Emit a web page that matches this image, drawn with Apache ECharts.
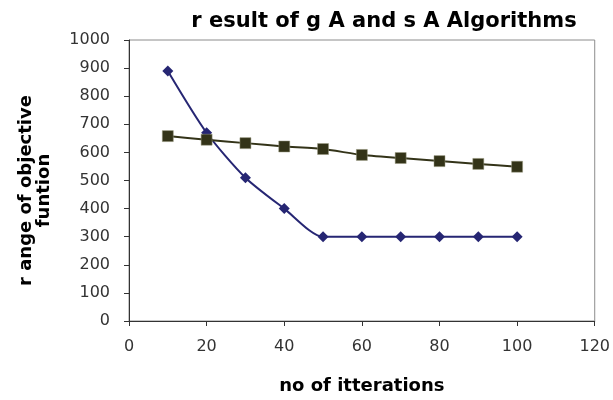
<!DOCTYPE html>
<html><head><meta charset="utf-8">
<script src="https://cdn.jsdelivr.net/npm/echarts@6/dist/echarts.min.js"></script>
<style>html,body{margin:0;padding:0;background:#fff}#c{width:613px;height:400px}</style>
</head><body><div id="c"></div>
<script>
const xValues = [10, 20, 30, 40, 50, 60, 70, 80, 90, 100];
const gaValues = [890, 670, 510, 400, 300, 300, 300, 300, 300, 300];
const saValues = [658, 645, 633, 621, 612, 591, 580, 569, 559, 549];
const titleText = 'r esult of g A and s A Algorithms';
const xName = 'no of itterations';
const yName = 'r ange of objective\nfuntion';

const boldFont = 'DejaVu Sans';
const chart = echarts.init(document.getElementById('c'));
chart.setOption({
  animation: false,
  backgroundColor: '#fff',
  title: {
    text: titleText, left: 379, top: 6, textAlign: 'center',
    textStyle: {fontFamily: boldFont, fontSize: 21, fontWeight: 'bold', color: '#000'}
  },
  grid: {left: 129, right: 16, top: 40, bottom: 76, show: true, borderColor: '#8c8c8c', borderWidth: 1},
  xAxis: {
    type: 'value', min: 0, max: 120, interval: 20,
    name: xName, nameLocation: 'middle', nameGap: 56,
    nameTextStyle: {fontFamily: boldFont, fontSize: 18, fontWeight: 'bold', color: '#000'},
    axisLine: {show: true, lineStyle: {color: '#333', width: 1}},
    axisTick: {show: true, inside: false, length: 5, lineStyle: {color: '#333'}},
    axisLabel: {fontFamily: 'DejaVu Sans', fontSize: 16, color: '#333', margin: 18},
    splitLine: {show: false}
  },
  yAxis: {
    type: 'value', min: 0, max: 1000, interval: 100,
    name: yName, nameLocation: 'middle', nameGap: 76, nameRotate: 90,
    nameTextStyle: {fontFamily: boldFont, fontSize: 18, fontWeight: 'bold', color: '#000', lineHeight: 18, padding: [0, 20, 0, 0]},
    axisLine: {show: true, lineStyle: {color: '#333', width: 1}},
    axisTick: {show: true, inside: false, length: 5, lineStyle: {color: '#333'}},
    axisLabel: {fontFamily: 'DejaVu Sans', fontSize: 16, color: '#333', margin: 19, formatter: v => String(v)},
    splitLine: {show: false}
  },
  series: [
    {
      name: 'gA', type: 'line', smooth: 0.25,
      data: xValues.map((x, i) => [x, gaValues[i]]),
      symbol: 'diamond', symbolSize: 11,
      lineStyle: {color: '#262673', width: 2},
      itemStyle: {color: '#262673'}
    },
    {
      name: 'sA', type: 'line', smooth: 0.15,
      data: xValues.map((x, i) => [x, saValues[i]]),
      symbol: 'rect', symbolSize: 11,
      lineStyle: {color: '#333318', width: 2},
      itemStyle: {color: '#333318', borderColor: '#9a9a80', borderWidth: 0.5}
    }
  ]
});
</script></body></html>
